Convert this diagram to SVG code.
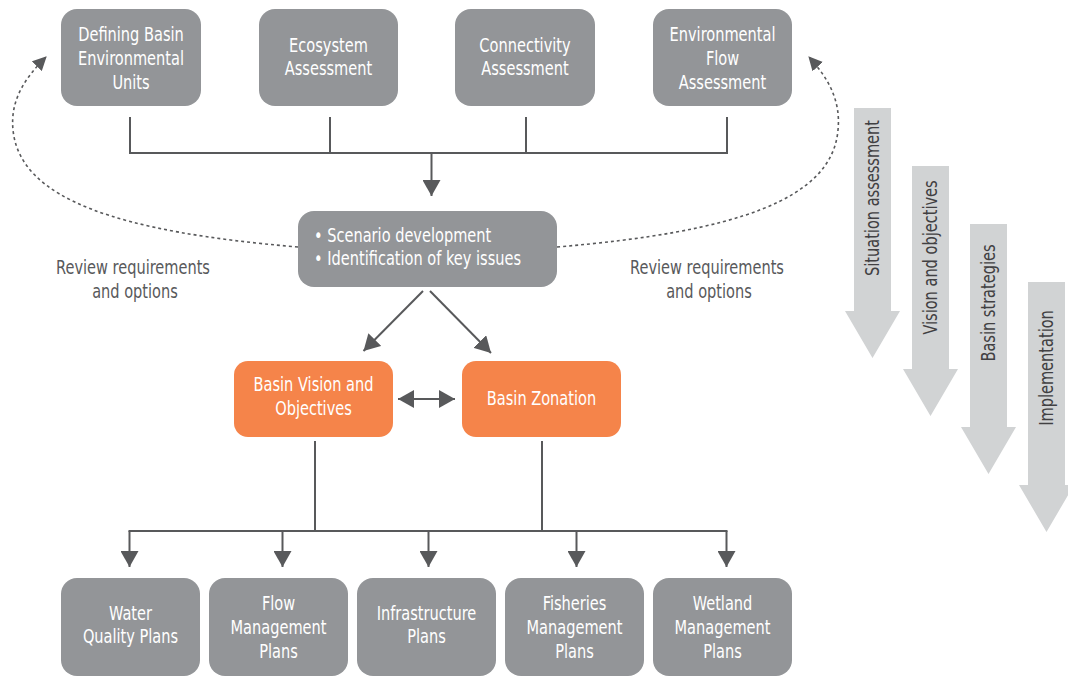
<svg xmlns="http://www.w3.org/2000/svg" width="1068" height="677" viewBox="0 0 1068 677">
<style>
text{font-family:"DejaVu Sans Condensed","DejaVu Sans","Liberation Sans",sans-serif;font-size:20px}
.n rect{fill:#939598}
.o rect{fill:#f5844a}
.n text,.o text{fill:#fff;text-anchor:middle}
.lbl{fill:#58595b;text-anchor:middle}
.stage{fill:#d1d3d4}
.st{fill:#414042;text-anchor:middle}
.c{stroke:#58595b;stroke-width:2;fill:none}
.d{stroke:#58595b;stroke-width:1.6;fill:none;stroke-dasharray:3 3}
</style>
<defs>
<marker id="ah" viewBox="0 0 16 18" refX="16" refY="9" markerWidth="16" markerHeight="18" markerUnits="userSpaceOnUse" orient="auto-start-reverse"><path d="M0,0 L16,9 L0,18 Z" fill="#58595b"/></marker>
<marker id="dh" viewBox="0 0 14 14" refX="13" refY="7" markerWidth="14" markerHeight="14" markerUnits="userSpaceOnUse" orient="auto"><path d="M0,0 L14,7 L0,14 Z" fill="#58595b"/></marker>
</defs>

<g id="stages">
<g id="stage1"><path class="stage" d="M854,108 H891 V311 H900 L872.5,358 L845,311 H854 Z"/><text class="st" transform="translate(879,198) rotate(-90) scale(0.81,1)">Situation assessment</text></g>
<g id="stage2"><path class="stage" d="M912,166 H949 V369 H958 L930.5,416 L903,369 H912 Z"/><text class="st" transform="translate(937,257.5) rotate(-90) scale(0.81,1)">Vision and objectives</text></g>
<g id="stage3"><path class="stage" d="M970,224 H1007 V427 H1016 L988.5,474 L961,427 H970 Z"/><text class="st" transform="translate(995,303) rotate(-90) scale(0.81,1)">Basin strategies</text></g>
<g id="stage4"><path class="stage" d="M1028,282 H1065 V485 H1074 L1046.5,532 L1019,485 H1028 Z"/><text class="st" transform="translate(1053,368) rotate(-90) scale(0.81,1)">Implementation</text></g>
</g>

<g id="connectors">
<path class="c" d="M130,117 V153 M330,117 V153 M526,117 V153 M727,117 V153 M129,153 H728"/>
<line class="c" x1="431.5" y1="153" x2="431.5" y2="196" marker-end="url(#ah)"/>
<line class="c" x1="423" y1="291" x2="363.5" y2="351" marker-end="url(#ah)"/>
<line class="c" x1="430" y1="291" x2="491" y2="353" marker-end="url(#ah)"/>
<line class="c" x1="398" y1="399" x2="455" y2="399" marker-start="url(#ah)" marker-end="url(#ah)"/>
<path class="c" d="M315,441 V531 M542,441 V531 M128.5,531 H727.5"/>
<line class="c" x1="129.5" y1="531" x2="129.5" y2="567" marker-end="url(#ah)"/>
<line class="c" x1="282.5" y1="531" x2="282.5" y2="567" marker-end="url(#ah)"/>
<line class="c" x1="428.5" y1="531" x2="428.5" y2="567" marker-end="url(#ah)"/>
<line class="c" x1="576.5" y1="531" x2="576.5" y2="567" marker-end="url(#ah)"/>
<line class="c" x1="726.5" y1="531" x2="726.5" y2="567" marker-end="url(#ah)"/>
<path class="d" d="M298,247 C120,232 20,200 13,130 C10,100 25,78 46,57" marker-end="url(#dh)"/>
<path class="d" d="M557,247 C735,232 832,200 838,130 C841,100 828,78 809,57" marker-end="url(#dh)"/>
</g>

<g id="n1" class="n"><rect x="61" y="9" width="140" height="97" rx="16"/><text transform="translate(131,41) scale(0.81,1)">Defining Basin</text><text transform="translate(131,65) scale(0.81,1)">Environmental</text><text transform="translate(131,89) scale(0.81,1)">Units</text></g>
<g id="n2" class="n"><rect x="259" y="9" width="139" height="97" rx="16"/><text transform="translate(328.5,52) scale(0.81,1)">Ecosystem</text><text transform="translate(328.5,75) scale(0.81,1)">Assessment</text></g>
<g id="n3" class="n"><rect x="455" y="9" width="140" height="97" rx="16"/><text transform="translate(525,52) scale(0.81,1)">Connectivity</text><text transform="translate(525,75) scale(0.81,1)">Assessment</text></g>
<g id="n4" class="n"><rect x="653" y="9" width="139" height="97" rx="16"/><text transform="translate(722.5,41) scale(0.81,1)">Environmental</text><text transform="translate(722.5,65) scale(0.81,1)">Flow</text><text transform="translate(722.5,89) scale(0.81,1)">Assessment</text></g>

<g id="scenario" class="n"><rect x="298" y="211" width="259" height="76" rx="16"/><text transform="translate(314,242) scale(0.81,1)" style="text-anchor:start">• Scenario development</text><text transform="translate(314,265) scale(0.81,1)" style="text-anchor:start">• Identification of key issues</text></g>

<g id="review-left"><text class="lbl" transform="translate(133,274) scale(0.81,1)">Review requirements</text><text class="lbl" transform="translate(135,298) scale(0.81,1)">and options</text></g>
<g id="review-right"><text class="lbl" transform="translate(707,274) scale(0.81,1)">Review requirements</text><text class="lbl" transform="translate(709,298) scale(0.81,1)">and options</text></g>

<g id="vision" class="o"><rect x="234" y="361" width="159" height="76" rx="14"/><text transform="translate(313.5,391) scale(0.81,1)">Basin Vision and</text><text transform="translate(313.5,415) scale(0.81,1)">Objectives</text></g>
<g id="zonation" class="o"><rect x="462" y="361" width="159" height="76" rx="14"/><text transform="translate(541.5,405) scale(0.81,1)">Basin Zonation</text></g>

<g id="b1" class="n"><rect x="61" y="578" width="139" height="98" rx="16"/><text transform="translate(130.5,620) scale(0.81,1)">Water</text><text transform="translate(130.5,643) scale(0.81,1)">Quality Plans</text></g>
<g id="b2" class="n"><rect x="209" y="578" width="139" height="98" rx="16"/><text transform="translate(278.5,610) scale(0.81,1)">Flow</text><text transform="translate(278.5,634) scale(0.81,1)">Management</text><text transform="translate(278.5,658) scale(0.81,1)">Plans</text></g>
<g id="b3" class="n"><rect x="357" y="578" width="139" height="98" rx="16"/><text transform="translate(426.5,620) scale(0.81,1)">Infrastructure</text><text transform="translate(426.5,643) scale(0.81,1)">Plans</text></g>
<g id="b4" class="n"><rect x="505" y="578" width="139" height="98" rx="16"/><text transform="translate(574.5,610) scale(0.81,1)">Fisheries</text><text transform="translate(574.5,634) scale(0.81,1)">Management</text><text transform="translate(574.5,658) scale(0.81,1)">Plans</text></g>
<g id="b5" class="n"><rect x="653" y="578" width="139" height="98" rx="16"/><text transform="translate(722.5,610) scale(0.81,1)">Wetland</text><text transform="translate(722.5,634) scale(0.81,1)">Management</text><text transform="translate(722.5,658) scale(0.81,1)">Plans</text></g>
</svg>
